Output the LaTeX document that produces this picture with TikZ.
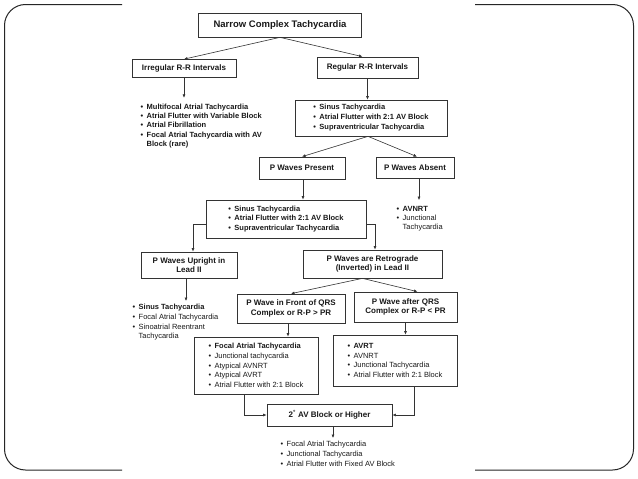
\documentclass[tikz,border=0pt]{standalone}
\usepackage{fontspec}
\setmainfont{Liberation Sans}
\usetikzlibrary{arrows.meta}
\newcommand\blt{\makebox[6pt][l]{\textbullet}}
\begin{document}
\begin{tikzpicture}[x=1pt,y=-1pt,
  box/.style={draw=black!80, line width=0.7pt, inner sep=2pt, align=center,
    font=\fontsize{8}{9.5}\selectfont\bfseries, text=black!90},
  lbox/.style={draw=black!80, line width=0.7pt, inner sep=2pt, align=left,
    font=\fontsize{7.5}{9.7}\selectfont, text=black!90},
  lst/.style={inner sep=0pt, align=left, anchor=base west,
    font=\fontsize{7.5}{9.5}\selectfont, text=black!90},
  arr/.style={draw=black!80, line width=0.6pt, -{Latex[length=3.5pt,width=3pt]}},
  frame/.style={draw=black!85, line width=1pt, rounded corners=21pt}
]
\useasboundingbox (0,0) rectangle (638,479);
\fill[white] (0,0) rectangle (638,479);
\draw[frame] (122,4.5) -- (4.5,4.5) -- (4.5,470) -- (122,470);
\draw[frame] (475,4.5) -- (633.5,4.5) -- (633.5,470) -- (475,470);

\node[box, font=\fontsize{9.5}{11}\selectfont\bfseries, minimum width=163pt, minimum height=24pt] (n0) at (280,25) {Narrow Complex Tachycardia};
\node[box, minimum width=104pt, minimum height=18pt] (n1) at (184,68.5) {Irregular R-R Intervals};
\node[box, minimum width=101pt, minimum height=21pt] (n2) at (367.5,67.5) {Regular R-R Intervals};
\draw[arr] (n0.south) -- (n1.north);
\draw[arr] (n0.south) -- ([xshift=-5pt]n2.north);

\node[lst, font=\fontsize{7.5}{9.2}\selectfont\bfseries] (l1) at (140.5,146.3) {\blt Multifocal Atrial Tachycardia\\ \blt Atrial Flutter with Variable Block\\ \blt Atrial Fibrillation\\ \blt Focal Atrial Tachycardia with AV\\ \hspace*{6pt}Block (rare)};
\draw[arr, shorten >=6pt] (n1.south) -- (n1.south |- l1.north);

\node[lbox, font=\fontsize{7.5}{10}\selectfont\bfseries, minimum width=152pt, minimum height=36pt] (n3) at (371,118) {\blt Sinus Tachycardia\\ \blt Atrial Flutter with 2:1 AV Block\\ \blt Supraventricular Tachycardia};
\draw[arr] (n2.south) -- (n2.south |- n3.north);

\node[box, minimum width=86pt, minimum height=22pt] (n4) at (302,168) {P Waves Present};
\node[box, minimum width=78pt, minimum height=21pt] (n5) at (415,167.5) {P Waves Absent};
\draw[arr] ([xshift=-3pt]n3.south) -- (n4.north);
\draw[arr] ([xshift=-3pt]n3.south) -- ([xshift=2pt]n5.north);

\node[lst, font=\fontsize{7.5}{9}\selectfont] (l2) at (396.5,229.5) {\textbf{\blt AVNRT}\\ \blt Junctional\\ \hspace*{6pt}Tachycardia};
\draw[arr, shorten >=6pt] ([xshift=4pt]n5.south) -- ([xshift=4pt]n5.south |- l2.north);

\node[lbox, font=\fontsize{7.5}{9.6}\selectfont\bfseries, minimum width=160pt, minimum height=38pt] (n6) at (286,219) {\blt Sinus Tachycardia\\ \blt Atrial Flutter with 2:1 AV Block\\ \blt Supraventricular Tachycardia};
\draw[arr] ([xshift=1pt]n4.south) -- ([xshift=1pt]n4.south |- n6.north);

\node[box, minimum width=96pt, minimum height=26pt] (n7) at (189,265) {P Waves Upright in\\Lead II};
\node[box, minimum width=139pt, minimum height=28pt] (n8) at (372.5,264) {P Waves are Retrograde\\(Inverted) in Lead II};
\draw[arr] ([yshift=-5pt]n6.west) -| ([xshift=4pt]n7.north);
\draw[arr] ([yshift=-5pt]n6.east) -| ([xshift=2.5pt]n8.north);

\node[lst, font=\fontsize{7.5}{9.7}\selectfont] (l3) at (132.5,338.8) {\textbf{\blt Sinus Tachycardia}\\ \blt Focal Atrial Tachycardia\\ \blt Sinoatrial Reentrant\\ \hspace*{6pt}Tachycardia};
\draw[arr, shorten >=3pt] ([xshift=-3pt]n7.south) -- ([xshift=-3pt]n7.south |- l3.north);

\node[box, minimum width=108pt, minimum height=29pt] (n9) at (291,308.5) {P Wave in Front of QRS\\Complex or R-P > PR};
\node[box, minimum width=103pt, minimum height=30pt] (n10) at (405.5,307) {P Wave after QRS\\Complex or R-P < PR};
\draw[arr] ([xshift=-10pt]n8.south) -- (n9.north);
\draw[arr] ([xshift=-10pt]n8.south) -- ([xshift=12pt]n10.north);

\node[lbox, minimum width=124pt, minimum height=57pt] (n11) at (256,365.5) {\textbf{\blt Focal Atrial Tachycardia}\\ \blt Junctional tachycardia\\ \blt Atypical AVNRT\\ \blt Atypical AVRT\\ \blt Atrial Flutter with 2:1 Block};
\draw[arr] ([xshift=-3pt]n9.south) -- ([xshift=-3pt]n9.south |- n11.north);

\node[lbox, minimum width=124pt, minimum height=51pt] (n12) at (395,360.5) {\textbf{\blt AVRT}\\ \blt AVNRT\\ \blt Junctional Tachycardia\\ \blt Atrial Flutter with 2:1 Block};
\draw[arr] (n10.south) -- (n10.south |- n12.north);

\node[box, minimum width=125pt, minimum height=22pt] (n13) at (329.5,415) {2\textsuperscript{°} AV Block or Higher};
\draw[arr] ([xshift=-12pt]n11.south) |- (n13.west);
\draw[arr] ([xshift=19pt]n12.south) |- (n13.east);

\node[lst, font=\fontsize{7.5}{10}\selectfont] (l4) at (280.5,466.7) {\blt Focal Atrial Tachycardia\\ \blt Junctional Tachycardia\\ \blt Atrial Flutter with Fixed AV Block};
\draw[arr, shorten >=3pt] ([xshift=3.5pt]n13.south) -- ([xshift=3.5pt]n13.south |- l4.north);
\end{tikzpicture}
\end{document}
